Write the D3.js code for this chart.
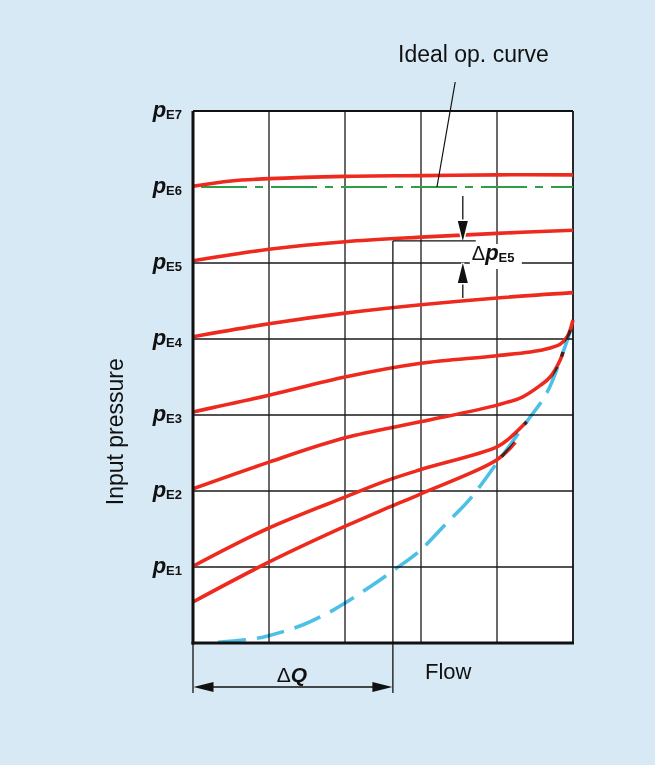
<!DOCTYPE html>
<meta charset="utf-8">
<script src="https://cdn.jsdelivr.net/npm/d3@7/dist/d3.min.js"></script>
<style>
body { margin: 0; background: #d7e9f5; }
text { font-family: "Liberation Sans", Arial, sans-serif; fill: #111; }
</style>
<body>
<script>

// grid units: x = flow steps, y = pressure levels pE1..pE7
var xSteps = [0, 1, 2, 3, 4, 5];
var pLevels = ["E1", "E2", "E3", "E4", "E5", "E6", "E7"];

// operating curves [flow, pressure]
var curveE6 = [[0, 6.01], [0.5, 6.08], [1, 6.11], [2, 6.14], [3, 6.15], [4, 6.16], [5, 6.16]];
var curveE5 = [[0, 5.03], [1, 5.18], [2, 5.28], [3, 5.34], [4, 5.39], [5, 5.43]];
var curveE4 = [[0, 4.03], [1, 4.2], [2, 4.34], [3, 4.45], [4, 4.54], [5, 4.61]];
var curveE3 = [[0, 3.04], [1, 3.26], [2, 3.5], [3, 3.68], [4, 3.78], [4.61, 3.86], [4.83, 3.93], [4.93, 4.04], [5, 4.25]];
var curveE2 = [[0, 2.03], [1, 2.38], [2, 2.7], [2.99, 2.91], [4, 3.13], [4.34, 3.24], [4.57, 3.39], [4.7, 3.5], [4.83, 3.72], [4.87, 3.83]];
var curveE1 = [[0, 1.01], [0.97, 1.5], [2, 1.92], [2.53, 2.13], [2.99, 2.28], [4, 2.58], [4.17, 2.7], [4.39, 2.91]];
var curveE0 = [[0, 0.54], [0.97, 1.05], [1.99, 1.53], [2.59, 1.79], [2.99, 1.96], [4, 2.41], [4.24, 2.64]];
var idealCurve = [[0.33, 0.01], [0.75, 0.05], [0.97, 0.09], [1.45, 0.24], [1.84, 0.43], [1.99, 0.52], [2.33, 0.74],
    [2.63, 0.95], [2.99, 1.22], [3.34, 1.58], [3.64, 1.89], [4, 2.37], [4.39, 2.91], [4.66, 3.3], [4.87, 3.83], [5, 4.21]];
var redCurves = [curveE6, curveE5, curveE4, curveE3, curveE2, curveE1, curveE0];

var idealLevel = 6;         // green dash-dot line (no grid line there)
var deltaQ = 2.63;          // width of ΔQ marker
var deltaPx = 3.55;         // where the ΔpE5 arrows sit
var deltaPtop = 5.29;

var margin = {top: 111, right: 82, bottom: 122, left: 193};
var width = 655 - margin.left - margin.right;
var height = 765 - margin.top - margin.bottom;

var x = d3.scaleLinear().domain([0, 5]).range([0, width]);
var y = d3.scaleLinear().domain([0, 7]).range([height, 0]);

var svg = d3.select("body").append("svg")
    .attr("width", 655).attr("height", 765)
    .append("g")
    .attr("transform", "translate(" + margin.left + "," + margin.top + ")");

svg.append("rect").attr("width", width).attr("height", height).attr("fill", "#fff");

// grid
svg.selectAll(".vgrid").data(xSteps.slice(1, -1)).enter().append("line")
    .attr("x1", x).attr("x2", x).attr("y1", 0).attr("y2", height)
    .attr("stroke", "#1a1a1a").attr("stroke-width", 1.3);
svg.selectAll(".hgrid").data([1, 2, 3, 4, 5]).enter().append("line")
    .attr("x1", 0).attr("x2", width).attr("y1", y).attr("y2", y)
    .attr("stroke", "#1a1a1a").attr("stroke-width", 1.3);
svg.append("line").attr("x1", 0).attr("x2", width).attr("y1", 0).attr("y2", 0)
    .attr("stroke", "#111").attr("stroke-width", 1.8);
svg.append("line").attr("x1", width).attr("x2", width).attr("y1", 0).attr("y2", height)
    .attr("stroke", "#111").attr("stroke-width", 1.8);

// level labels p_E1 .. p_E7
var lab = svg.selectAll(".plab").data(pLevels).enter().append("text")
    .attr("x", -11).attr("y", function(d, i) { return y(i + 1) + 6; })
    .attr("text-anchor", "end");
lab.append("tspan").text("p").style("font-size", "22px").style("font-weight", "bold").style("font-style", "italic");
lab.append("tspan").text(String).attr("dy", 2).style("font-size", "13px").style("font-weight", "bold");

// green ideal line
svg.append("line").attr("x1", 0).attr("x2", width).attr("y1", y(idealLevel)).attr("y2", y(idealLevel))
    .attr("stroke", "#2f9e46").attr("stroke-width", 2).attr("stroke-dasharray", "46,8,8,8")
    .attr("stroke-dashoffset", -8);

// red curves
var line = d3.line().x(function(d) { return x(d[0]); }).y(function(d) { return y(d[1]); })
    .curve(d3.curveCatmullRom.alpha(0.5));
svg.selectAll(".red").data(redCurves).enter().append("path")
    .attr("d", line).attr("fill", "none").attr("stroke", "#ee2a1e").attr("stroke-width", 3.6)
    .attr("stroke-linecap", "butt");

// blue dashed curve on top
svg.append("path").datum(idealCurve).attr("d", line)
    .attr("fill", "none").attr("stroke", "#4cc0e6").attr("stroke-width", 3.6)
    .attr("stroke-dasharray", "28,11").style("mix-blend-mode", "multiply");

// thick left / bottom axis
svg.append("line").attr("x1", 0).attr("x2", 0).attr("y1", 0).attr("y2", height + 1.5)
    .attr("stroke", "#111").attr("stroke-width", 3);
svg.append("line").attr("x1", -1.5).attr("x2", width + 1).attr("y1", height).attr("y2", height)
    .attr("stroke", "#111").attr("stroke-width", 3);

function arrowHead(g, tx, ty, dx, dy, halo) {
    // tip at (tx,ty), pointing along (dx,dy)
    var len = 20, half = 5;
    var bx = tx - dx * len, by = ty - dy * len;
    g.append("path")
        .attr("d", "M" + tx + "," + ty + "L" + (bx - dy * half) + "," + (by + dx * half) +
            "L" + (bx + dy * half) + "," + (by - dx * half) + "Z")
        .attr("fill", "#111").attr("stroke", halo ? "#fff" : "none").attr("stroke-width", 3)
        .style("paint-order", "stroke");
}

// Δp_E5 marker
var ax = x(deltaPx);
svg.append("line").attr("x1", ax).attr("x2", ax).attr("y1", y(deltaPtop) - 45).attr("y2", y(deltaPtop) - 18)
    .attr("stroke", "#111").attr("stroke-width", 1.3);
arrowHead(svg, ax, y(deltaPtop), 0, 1, true);
svg.append("line").attr("x1", ax).attr("x2", ax).attr("y1", y(5) + 18).attr("y2", y(5) + 35)
    .attr("stroke", "#111").attr("stroke-width", 1.3);
arrowHead(svg, ax, y(5), 0, -1, true);
svg.append("line").attr("x1", x(deltaQ)).attr("x2", ax + 13).attr("y1", y(deltaPtop)).attr("y2", y(deltaPtop))
    .attr("stroke", "#111").attr("stroke-width", 1.3);
svg.append("rect").attr("x", ax + 7).attr("y", y(5) - 19).attr("width", 52).attr("height", 25).attr("fill", "#fff");
var dp = svg.append("text").attr("x", ax + 9).attr("y", y(5) - 3);
dp.append("tspan").text("Δ").style("font-size", "20px");
dp.append("tspan").text("p").style("font-size", "22px").style("font-weight", "bold").style("font-style", "italic");
dp.append("tspan").text("E5").attr("dy", 2).style("font-size", "13px").style("font-weight", "bold");

// ΔQ marker
var qx = x(deltaQ);
svg.append("line").attr("x1", qx).attr("x2", qx).attr("y1", y(deltaPtop)).attr("y2", height + 50)
    .attr("stroke", "#111").attr("stroke-width", 1.3);
svg.append("line").attr("x1", 0).attr("x2", 0).attr("y1", height).attr("y2", height + 50)
    .attr("stroke", "#111").attr("stroke-width", 1.3);
svg.append("line").attr("x1", 10).attr("x2", qx - 10).attr("y1", height + 44).attr("y2", height + 44)
    .attr("stroke", "#111").attr("stroke-width", 1.3);
arrowHead(svg, 0.5, height + 44, -1, 0, false);
arrowHead(svg, qx - 0.5, height + 44, 1, 0, false);
var dq = svg.append("text").attr("x", qx / 2 - 1).attr("y", height + 39).attr("text-anchor", "middle");
dq.append("tspan").text("Δ").style("font-size", "21px");
dq.append("tspan").text("Q").style("font-size", "21px").style("font-weight", "bold").style("font-style", "italic");

// axis titles
svg.append("text").attr("x", 232).attr("y", height + 36).text("Flow").style("font-size", "22px");
svg.append("text").attr("transform", "translate(-70," + y(2.78) + ") rotate(-90)")
    .attr("text-anchor", "middle").text("Input pressure").style("font-size", "23px");

// ideal op. curve callout
svg.append("line").attr("x1", x(3.21)).attr("y1", y(idealLevel)).attr("x2", x(3.45)).attr("y2", -29)
    .attr("stroke", "#111").attr("stroke-width", 1.2);
svg.append("text").attr("x", x(3.69)).attr("y", -49).attr("text-anchor", "middle")
    .text("Ideal op. curve").style("font-size", "23px");

</script>
</body>
</html>
